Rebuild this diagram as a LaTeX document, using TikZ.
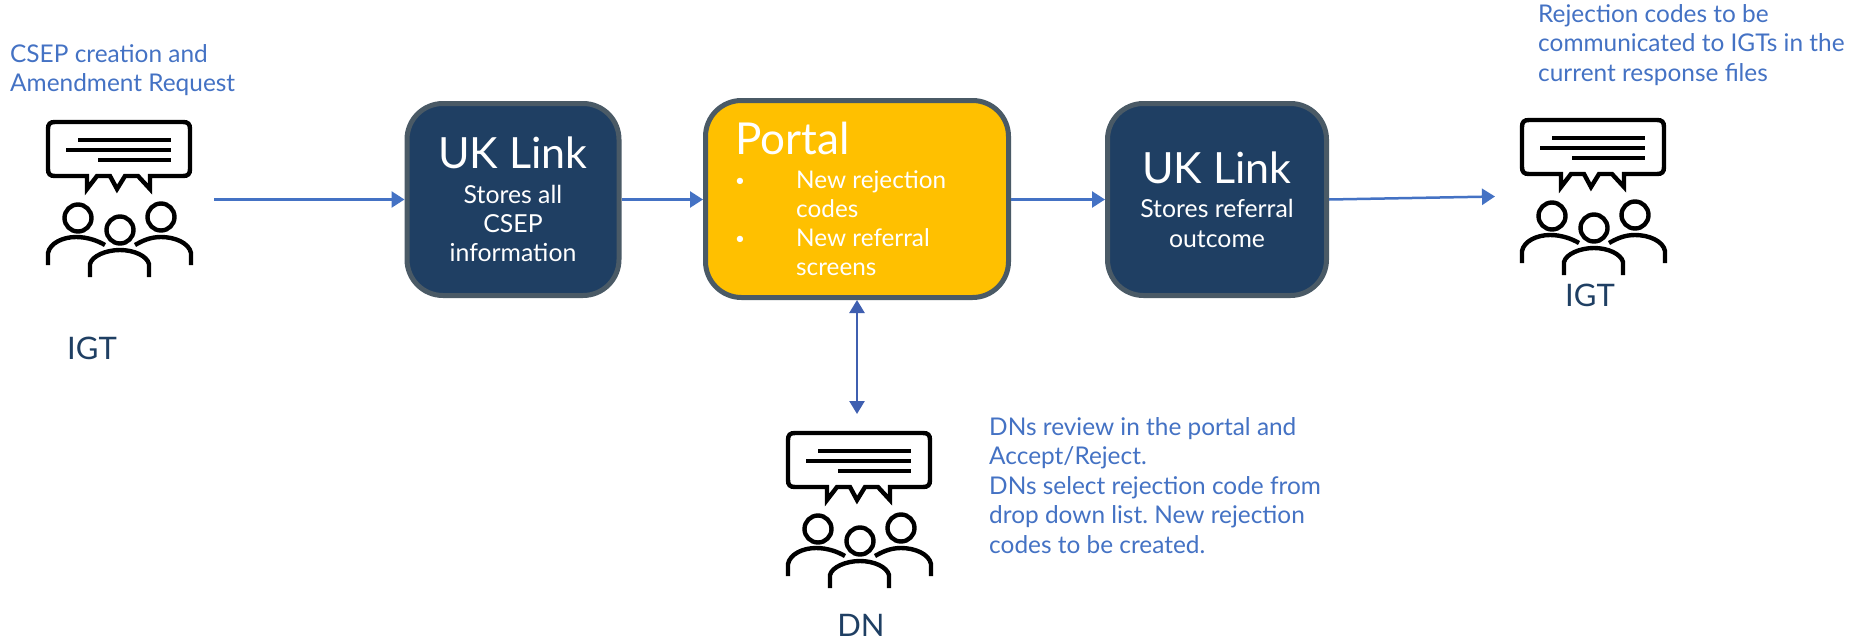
\documentclass[tikz,border=0pt]{standalone}
\usepackage{fontspec}
\setmainfont{Lato}
\usetikzlibrary{arrows.meta}
\definecolor{navy}{HTML}{1F3F63}
\definecolor{edgegrey}{HTML}{4A5A66}
\definecolor{amber}{HTML}{FFC000}
\definecolor{flow}{HTML}{4472C4}
\definecolor{flowdark}{HTML}{3F5FB0}
\definecolor{labelnavy}{HTML}{1F3F63}
\newcommand{\fs}[2]{\fontsize{#1pt}{#2pt}\selectfont}
\frenchspacing
\tikzset{
  x=1pt,y=-1pt,
  box/.style={draw=edgegrey,line width=5pt,rounded corners=36pt,inner sep=0pt},
  flowline/.style={draw=flow,line width=2.5pt,-{Triangle[length=13pt,width=16pt]}},
  note/.style={text=flow,anchor=north west,inner sep=0pt,align=left,font=\frenchspacing\fs{24.4}{29.5}},
  who/.style={text=labelnavy,inner sep=0pt,font=\fs{31}{36}},
  ptext/.style={anchor=base west,inner sep=0pt,text=white,font=\fs{24.3}{29}},
  ctitle/.style={anchor=base,inner sep=0pt,text=white,font=\fs{43}{46}},
  cbody/.style={anchor=base,inner sep=0pt,text=white,font=\fs{24.8}{29}},
  bullet/.style={anchor=base west,inner sep=0pt,text=white,font=\fs{17}{29}},
  ico/.style={line width=4.4pt,draw=black,line cap=butt,line join=miter},
  pics/people/.style={code={
    \draw[ico] (7,0) -- (135,0) .. controls (140,0) and (142,2) .. (142,7) -- (142,47) .. controls (142,52) and (140,54) .. (135,54) -- (102,54) -- (102,67) -- (90,54) -- (77,54) -- (69,67) -- (62,54) -- (49,54) -- (39,67) -- (39,54) -- (7,54) .. controls (2,54) and (0,52) .. (0,47) -- (0,7) .. controls (0,2) and (2,0) .. (7,0) -- cycle;
    \draw[ico] (30,18) -- (123,18) (18,28) -- (123,28) (50,38) -- (123,38);
    \draw[ico] (30,96) circle[radius=13.5];
    \draw[ico] (72,108) circle[radius=13.5];
    \draw[ico] (113,95) circle[radius=13.5];
    \draw[ico] (0,143) -- (0,131) .. controls (2,121) and (15,115) .. (28,115) .. controls (40,115) and (50,119) .. (57,123);
    \draw[ico] (143,143) -- (143,131) .. controls (141,121) and (127,115) .. (113,115) .. controls (102,115) and (94,119) .. (87,123);
    \draw[ico] (42,155) -- (42,142) .. controls (44,134) and (58,128) .. (72,128) .. controls (86,128) and (99,134) .. (101,142) -- (101,155);
  }}
}
\begin{document}
\begin{tikzpicture}
\useasboundingbox (0,0) rectangle (1850,640);
\fill[white] (0,0) rectangle (1850,640);

\pic (igtA) at (48,122) {people};
\pic (igtB) at (1522,120) {people};
\pic (dn) at (788,433) {people};

\node[box,fill=navy,minimum width=212pt,minimum height=192pt] (linkA) at (513,199.5) {};
\node[box,fill=amber,minimum width=303pt,minimum height=197pt] (portal) at (857,199) {};
\node[box,fill=navy,minimum width=219pt,minimum height=192pt] (linkB) at (1217,199.5) {};

\node[ctitle] (a0) at (513,168) {UK Link};
\node[cbody] (a1) at (513,203) {Stores all};
\node[cbody] (a2) at (513,232) {CSEP};
\node[cbody] (a3) at (513,261) {information};
\node[ctitle] (c0) at (1217,183) {UK Link};
\node[cbody] (c1) at (1217,217) {Stores referral};
\node[cbody] (c2) at (1217,247) {outcome};

\node[anchor=base west,inner sep=0pt,text=white,font=\fs{44}{46}] (ptitle) at (735,154) {Portal};
\node[bullet] (b1) at (735,186) {•};
\node[ptext] (t1) at (796,188) {New rejection};
\node[ptext] (t2) at (796,217) {codes};
\node[bullet] (b2) at (735,244) {•};
\node[ptext] (t3) at (796,246) {New referral};
\node[ptext] (t4) at (796,275) {screens};

\coordinate (startA) at (214,199.5);
\coordinate (endB) at (1495,196.5);
\coordinate (fromB) at (1329,199.5);
\coordinate (dnTop) at (857,414);
\draw[flowline] (startA) -- (linkA.west);
\draw[flowline] (linkA.east) -- (portal.west |- linkA.east);
\draw[flowline] (portal.east |- linkB.west) -- (linkB.west);
\draw[flowline] (fromB) -- (endB);
\draw[draw=flowdark,line width=2.5pt,{Triangle[length=13pt,width=15pt]}-{Triangle[length=13pt,width=15pt]}] (portal.south) -- (dnTop);

\node[note] (csep) at (10,44) {CSEP creation and\\Amendment Request};
\node[note] (rej) at (1538,4) {Rejection codes to be\\communicated to IGTs in the\\current response files};
\node[note] (rev) at (989,417) {DNs review in the portal and\\Accept/Reject.\\DNs select rejection code from\\drop down list. New rejection\\codes to be created.};
\node[who] (lblA) at (92,348) {IGT};
\node[who] (lblB) at (1590,295) {IGT};
\node[who] (lblC) at (861,625) {DN};
\end{tikzpicture}
\end{document}
